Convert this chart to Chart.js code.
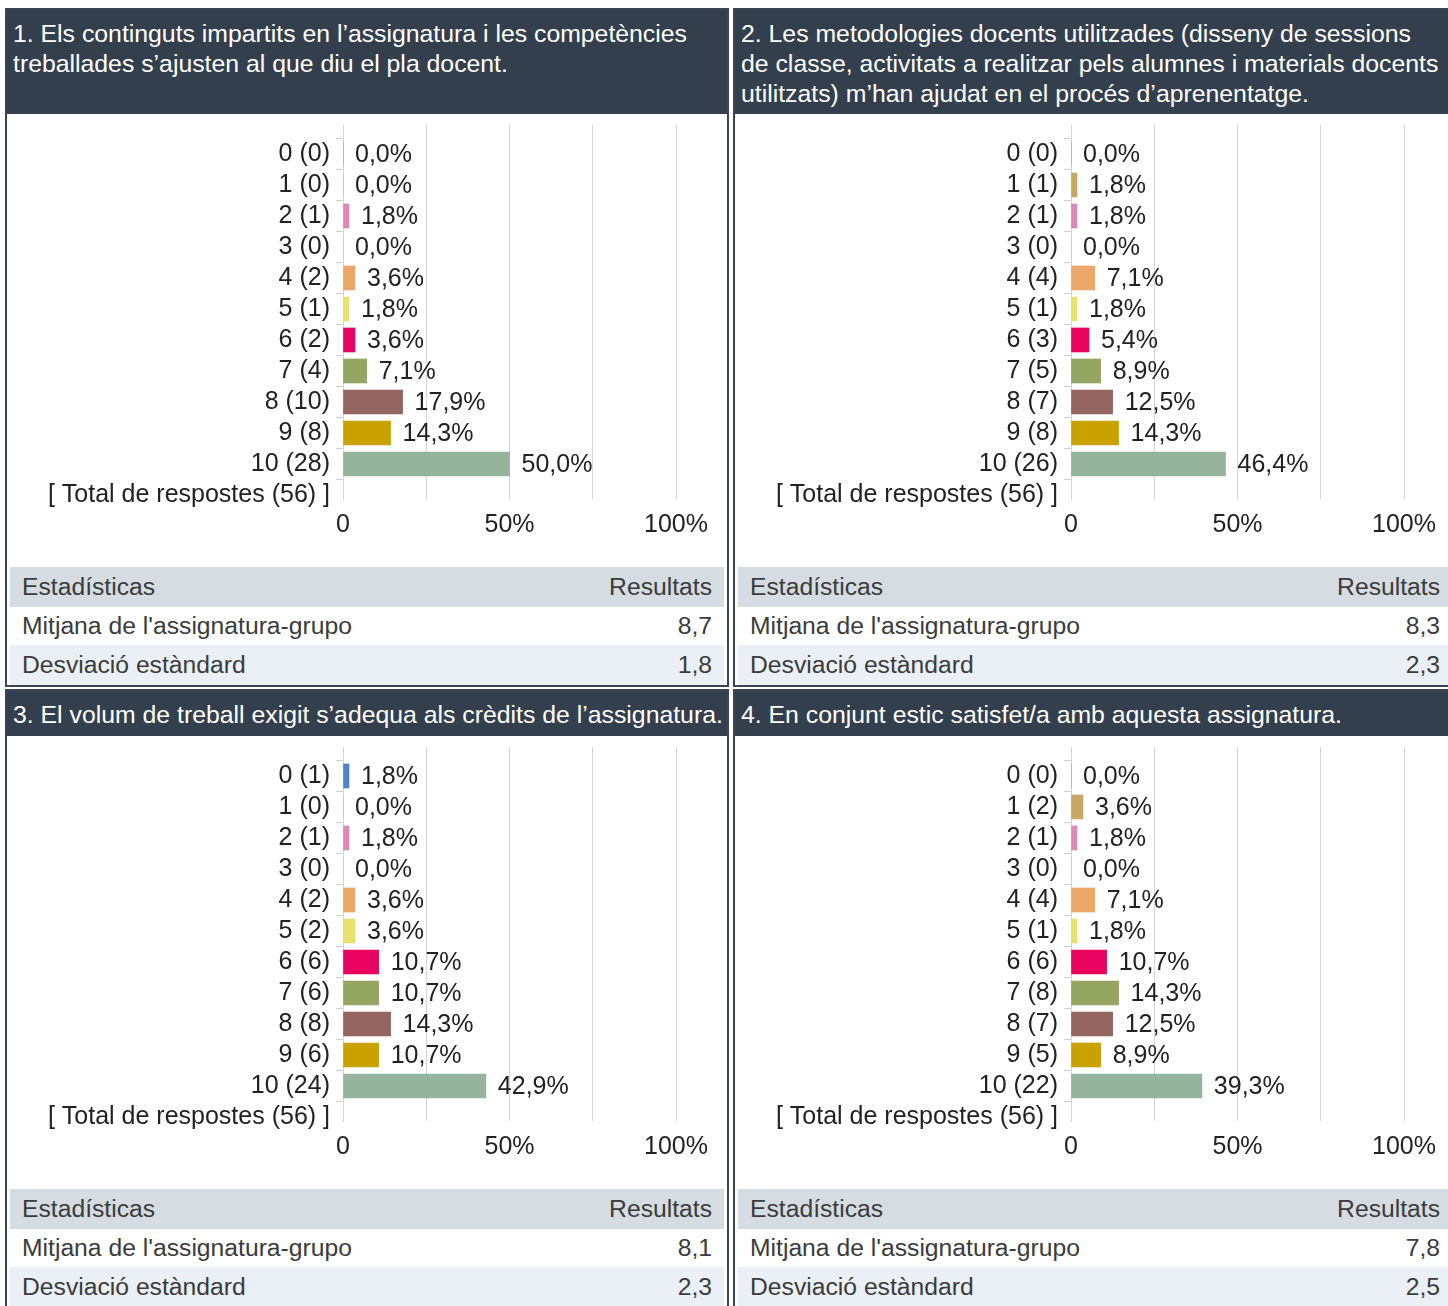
<!DOCTYPE html>
<html lang="ca">
<head>
<meta charset="utf-8">
<title>Resultats de l'enquesta</title>
<script src="https://cdn.jsdelivr.net/npm/chart.js@4.4.1/dist/chart.umd.min.js"></script>
<style>
  body { margin: 0; background: #fff; width: 1448px; height: 1306px; overflow: hidden;
         font-family: "Liberation Sans", Arial, sans-serif; }
  #graella { position: absolute; left: 5px; top: 8px; display: grid;
             grid-template-columns: 724px 724px; column-gap: 4px; row-gap: 2px; }
  .panell { border: 2px solid #3a4452; background: #fff; box-sizing: border-box; }
  .titol { background: #343f4d; color: #fff; font-size: 24.8px; line-height: 30px;
           padding: 9px 6px 0 6px; box-sizing: border-box; white-space: nowrap; overflow: hidden; }
  .fila1 .titol { height: 104px; }
  .fila2 .titol { height: 45px; }
  .grafic { position: relative; height: 453px; }
  table { margin: 0 3px; width: calc(100% - 6px); border-collapse: collapse;
          font-size: 24.7px; color: #3b3b3b; }
  td { padding: 0 12px; white-space: nowrap; }
  tr.cap { background: #d5dde2; height: 40px; }
  tr.fila-a { background: #fff; height: 38px; }
  tr.fila-b { background: #eaf0f5; height: 40px; }
  td.dreta { text-align: right; }
</style>
</head>
<body>
<div id="graella"></div>
<script>
// puntuacions de l'escala (0 a 10)
const notes = ['0', '1', '2', '3', '4', '5', '6', '7', '8', '9', '10'];
const totalRespostes = [56, 56, 56, 56];

// títols de cada pregunta (una entrada per línia)
const titols = [
  ['1. Els continguts impartits en l’assignatura i les competències', 'treballades s’ajusten al que diu el pla docent.'],
  ['2. Les metodologies docents utilitzades (disseny de sessions', 'de classe, activitats a realitzar pels alumnes i materials docents', 'utilitzats) m’han ajudat en el procés d’aprenentatge.'],
  ['3. El volum de treball exigit s’adequa als crèdits de l’assignatura.'],
  ['4. En conjunt estic satisfet/a amb aquesta assignatura.']
];

// nombre de respostes per puntuació
const respostes1 = [0, 0, 1, 0, 2, 1, 2, 4, 10, 8, 28];
const respostes2 = [0, 1, 1, 0, 4, 1, 3, 5, 7, 8, 26];
const respostes3 = [1, 0, 1, 0, 2, 2, 6, 6, 8, 6, 24];
const respostes4 = [0, 2, 1, 0, 4, 1, 6, 8, 7, 5, 22];

// percentatges tal com surten al gràfic
const percent1 = [0, 0, 1.8, 0, 3.6, 1.8, 3.6, 7.1, 17.9, 14.3, 50.0];
const percent2 = [0, 1.8, 1.8, 0, 7.1, 1.8, 5.4, 8.9, 12.5, 14.3, 46.4];
const percent3 = [1.8, 0, 1.8, 0, 3.6, 3.6, 10.7, 10.7, 14.3, 10.7, 42.9];
const percent4 = [0, 3.6, 1.8, 0, 7.1, 1.8, 10.7, 14.3, 12.5, 8.9, 39.3];

// estadístiques de la taula
const mitjanes = ['8,7', '8,3', '8,1', '7,8'];
const desviacions = ['1,8', '2,3', '2,3', '2,5'];

// ticks de l'eix x
const ticksX = [0, 25, 50, 75, 100];
const etiquetesX = ['0', '', '50%', '', '100%'];

// un color per puntuació
const colors = ['#4d87bf', '#c9a764', '#d98ab8', '#9bbbd9', '#eca86b', '#e6e26c',
                '#e8045f', '#94a661', '#946461', '#c9a200', '#96b49c'];

const respostes = [respostes1, respostes2, respostes3, respostes4];
const percents = [percent1, percent2, percent3, percent4];

const lletra = '"Liberation Sans", Arial, sans-serif';

// escriu el percentatge a la dreta de cada barra
const etiquetesPercent = {
  id: 'etiquetesPercent',
  afterDatasetsDraw(chart) {
    const ctx = chart.ctx;
    const dades = chart.data.datasets[0].data;
    ctx.save();
    ctx.font = '25px ' + lletra;
    ctx.fillStyle = '#222';
    ctx.textBaseline = 'middle';
    chart.getDatasetMeta(0).data.forEach(function(barra, i) {
      const text = dades[i].x.toFixed(1).replace('.', ',') + '%';
      ctx.fillText(text, barra.x + 12, barra.y + 1);
    });
    ctx.restore();
  }
};

function crearGrafic(canvas, resp, perc, total) {
  const etiquetes = notes.map((n, i) => n + ' (' + resp[i] + ')');
  etiquetes.push('[ Total de respostes (' + total + ') ]');

  return new Chart(canvas, {
    type: 'bar',
    data: {
      datasets: [{
        data: perc.map((p, i) => ({ x: p, y: i })),
        backgroundColor: colors,
        barThickness: 24
      }]
    },
    options: {
      indexAxis: 'y',
      responsive: true,
      maintainAspectRatio: false,
      animation: false,
      layout: { padding: { top: 11, right: 51, bottom: 0, left: 0 } },
      plugins: { legend: { display: false }, tooltip: { enabled: false } },
      scales: {
        x: {
          type: 'linear', min: 0, max: 100,
          afterBuildTicks: s => { s.ticks = ticksX.map(v => ({ value: v })); },
          ticks: {
            autoSkip: false, maxRotation: 0, padding: 11, color: '#222',
            font: { size: 25, family: lletra },
            callback: (v, i) => etiquetesX[i]
          },
          grid: { color: '#d6d6d6', drawTicks: false },
          border: { display: false },
          afterFit: s => { s.height = 68; }
        },
        y: {
          type: 'linear', reverse: true, offset: false, min: -0.935, max: 11.13,
          afterBuildTicks: s => { s.ticks = etiquetes.map((e, i) => ({ value: i })); },
          ticks: {
            autoSkip: false, padding: 6, color: '#222',
            font: { size: 25, family: lletra },
            callback: (v, i) => etiquetes[i]
          },
          grid: { drawOnChartArea: false, tickLength: 7, color: '#cfcfcf' },
          border: { color: '#d6d6d6' },
          afterFit: s => { s.width = 336; s.paddingTop = 0; s.paddingBottom = 0; }
        }
      }
    },
    plugins: [etiquetesPercent]
  });
}

const graella = document.getElementById('graella');

titols.forEach(function(linies, k) {
  const panell = document.createElement('div');
  panell.className = 'panell ' + (k < 2 ? 'fila1' : 'fila2');
  panell.innerHTML =
    '<div class="titol">' + linies.join('<br>') + '</div>' +
    '<div class="grafic"><canvas></canvas></div>' +
    '<table>' +
    '<tr class="cap"><td>Estadísticas</td><td class="dreta">Resultats</td></tr>' +
    '<tr class="fila-a"><td>Mitjana de l\'assignatura-grupo</td><td class="dreta">' + mitjanes[k] + '</td></tr>' +
    '<tr class="fila-b"><td>Desviació estàndard</td><td class="dreta">' + desviacions[k] + '</td></tr>' +
    '</table>';
  graella.appendChild(panell);
  crearGrafic(panell.querySelector('canvas'), respostes[k], percents[k], totalRespostes[k]);
});
</script>
</body>
</html>
